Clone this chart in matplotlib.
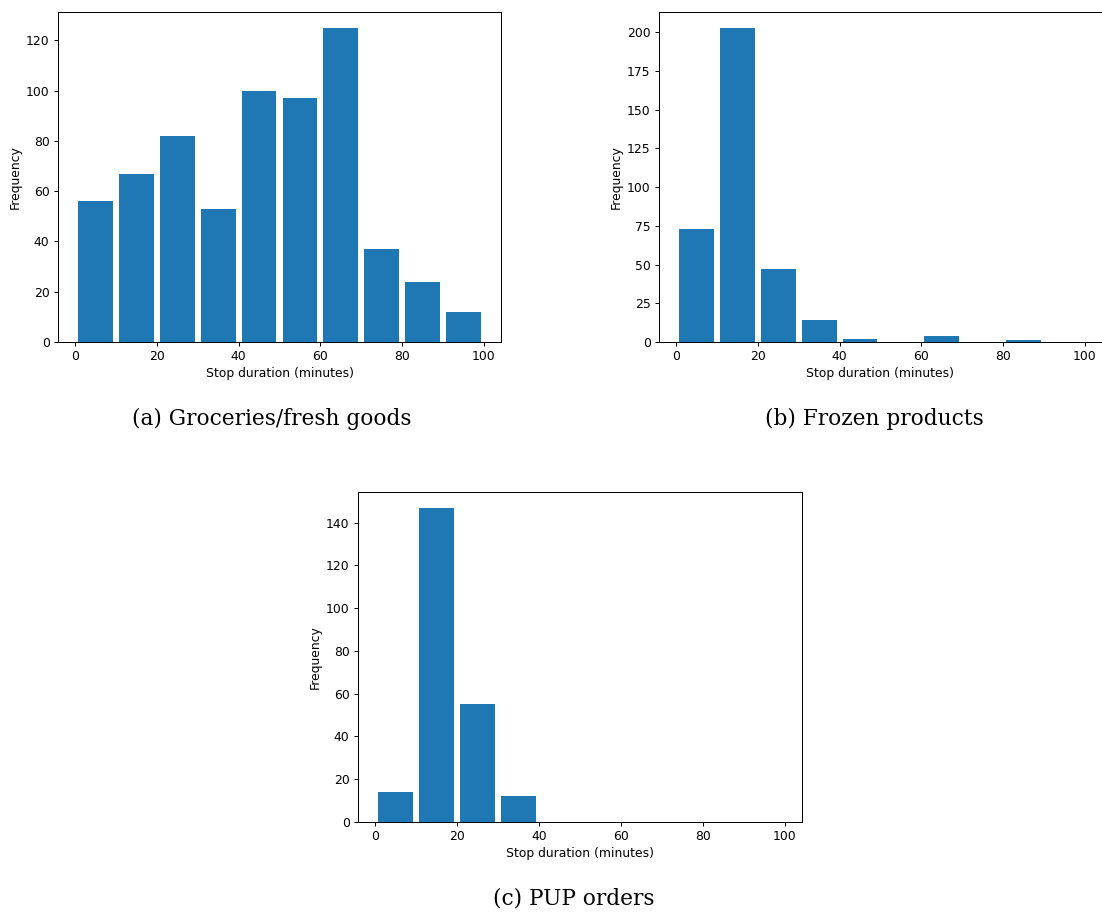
import numpy as np
import matplotlib.pyplot as plt

# stop durations binned in 10-minute intervals
bin_edges = np.arange(0, 101, 10)
groceries_counts = [56, 67, 82, 53, 100, 97, 125, 37, 24, 12]
frozen_counts = [73, 203, 47, 14, 2, 0, 4, 0, 1, 0]
pup_counts = [14, 147, 55, 12, 0, 0, 0, 0, 0, 0]
captions = ["(a) Groceries/fresh goods", "(b) Frozen products", "(c) PUP orders"]

W, H = 1102, 913
fig = plt.figure(figsize=(W / 100, H / 100), dpi=100)

fs = 8.9
plt.rcParams['axes.linewidth'] = 0.72
plt.rcParams['xtick.major.width'] = 0.72
plt.rcParams['ytick.major.width'] = 0.72
plt.rcParams['xtick.major.size'] = 3.1
plt.rcParams['ytick.major.size'] = 3.1


def px_axes(left, top, right, bottom):
    return fig.add_axes([left / W, 1 - bottom / H, (right - left) / W, (bottom - top) / H])


def draw_hist(ax, counts):
    centers = (bin_edges[:-1] + bin_edges[1:]) / 2
    ax.hist(centers, bins=bin_edges, weights=counts, rwidth=0.85, color='#1f77b4')
    ax.set_xlabel("Stop duration (minutes)", fontsize=fs, labelpad=2.5)
    ax.set_ylabel("Frequency", fontsize=fs, labelpad=3)
    ax.tick_params(labelsize=fs, pad=3)


ax_a = px_axes(58, 12, 501, 342)
draw_hist(ax_a, groceries_counts)

ax_b = px_axes(659, 12, 1102, 342)
draw_hist(ax_b, frozen_counts)

ax_c = px_axes(358, 492, 802, 822)
draw_hist(ax_c, pup_counts)

cap_font = dict(family='DejaVu Serif', fontsize=15.6, ha='center', va='center')
fig.text(272 / W, 1 - 419 / H, captions[0], **cap_font)
fig.text(874 / W, 1 - 419 / H, captions[1], **cap_font)
fig.text(574 / W, 1 - 898 / H, captions[2], **cap_font)

fig.savefig("out.png", dpi=100)
